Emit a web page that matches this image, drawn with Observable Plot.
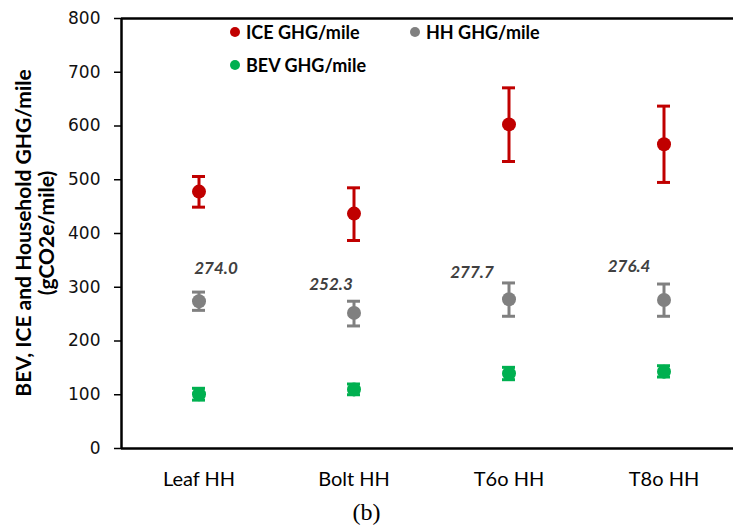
<!DOCTYPE html>
<html>
<head>
<meta charset="utf-8">
<script src="https://cdn.jsdelivr.net/npm/d3@7"></script>
<script src="https://cdn.jsdelivr.net/npm/@observablehq/plot@0.6"></script>
<style>
  body { margin: 0; background: #fff; }
  #wrap { position: relative; width: 733px; height: 530px; overflow: hidden; font-family: Lato, "Open Sans", sans-serif; }
  .leg { position: absolute; font-weight: bold; font-size: 18px; color: #000; white-space: nowrap; line-height: 22px; }
  .leg span { display: inline-block; width: 10px; height: 10px; border-radius: 50%; margin-right: 6px; vertical-align: 2px; }
  #cap { position: absolute; left: 0; width: 733px; top: 499px; text-align: center; font-family: "Liberation Serif", serif; font-size: 24px; }
  .ytitle { position: absolute; font-weight: bold; font-size: 21px; color: #000; white-space: nowrap; transform: translate(-50%, -50%) rotate(-90deg); }
</style>
</head>
<body>
<div id="wrap"></div>
<script>
const categories = ["Leaf HH", "Bolt HH", "T6o HH", "T8o HH"];
const iceValues = [478, 437, 603, 566];
const iceLow = [449, 387, 534, 495];
const iceHigh = [506, 485, 671, 637];
const hhValues = [274.0, 252.3, 277.7, 276.4];
const hhLow = [257, 228, 246, 246];
const hhHigh = [291, 274, 308, 306];
const bevValues = [101, 110, 139.5, 143];
const bevLow = [90, 100, 128, 133];
const bevHigh = [112, 120, 151, 154];
const hhLabels = ["274.0", "252.3", "277.7", "276.4"];
const yTicks = [0, 100, 200, 300, 400, 500, 600, 700, 800];
const seriesNames = ["ICE GHG/mile", "HH GHG/mile", "BEV GHG/mile"];
const yTitleLines = ["BEV, ICE and Household GHG/mile", "(gCO2e/mile)"];

const colors = {ice: "#C00000", hh: "#808080", bev: "#00B050"};
const labelOffsets = [[17, -33], [-23, -28], [-37, -27], [-35, -33]];

function rows(vals, lo, hi) {
  return categories.map((c, i) => ({cat: c, v: vals[i], lo: lo[i], hi: hi[i], label: hhLabels[i]}));
}
const ice = rows(iceValues, iceLow, iceHigh);
const hh = rows(hhValues, hhLow, hhHigh);
const bev = rows(bevValues, bevLow, bevHigh);

function errorMarks(data, color) {
  return [
    Plot.ruleX(data, {x: "cat", y1: "lo", y2: "hi", stroke: color, strokeWidth: 3}),
    Plot.tickY(data, {x: "cat", y: "lo", stroke: color, strokeWidth: 3, insetLeft: 71, insetRight: 71}),
    Plot.tickY(data, {x: "cat", y: "hi", stroke: color, strokeWidth: 3, insetLeft: 71, insetRight: 71}),
    Plot.dot(data, {x: "cat", y: "v", r: 7, fill: color})
  ];
}

const chart = Plot.plot({
  width: 733,
  height: 500,
  marginLeft: 121,
  marginRight: -8,
  marginTop: 18,
  marginBottom: 52,
  style: {fontFamily: "Lato, 'Open Sans', sans-serif", background: "#fff", color: "#000"},
  x: {type: "band", domain: categories, padding: 0},
  y: {domain: [0, 800]},
  marks: [
    Plot.axisY({ticks: yTicks, tickSize: 7, tickPadding: 14, label: null, fontSize: 17, fontFamily: "DejaVu Sans", stroke: "#000", strokeWidth: 1.5, fill: "#111"}),
    Plot.axisX({tickSize: 0, tickPadding: 23, label: null, fontSize: 20, fill: "#000"}),
    Plot.ruleY([0], {stroke: "#000", strokeWidth: 2.5}),
    Plot.ruleY([800], {stroke: "#000", strokeWidth: 2.5}),
    Plot.ruleX([categories[0]], {stroke: "#000", strokeWidth: 2.5, dx: -77.5}),
    ...errorMarks(ice, colors.ice),
    ...errorMarks(hh, colors.hh),
    ...errorMarks(bev, colors.bev),
    ...hh.map((d, i) => Plot.text([d], {x: "cat", y: "v", text: "label", dx: labelOffsets[i][0], dy: labelOffsets[i][1], fontSize: 17, fontStyle: "italic", fontWeight: "bold", fill: "#404040"}))
  ]
});

const wrap = document.getElementById("wrap");
wrap.appendChild(chart);

const titleX = [22, 45];
yTitleLines.forEach((t, i) => {
  const d = document.createElement("div");
  d.className = "ytitle";
  d.style.left = titleX[i] + "px";
  d.style.top = "233px";
  d.textContent = t;
  wrap.appendChild(d);
});

const legendItems = [
  {name: seriesNames[0], color: colors.ice, left: 230, top: 21},
  {name: seriesNames[1], color: colors.hh, left: 410, top: 21},
  {name: seriesNames[2], color: colors.bev, left: 230, top: 54}
];
for (const it of legendItems) {
  const d = document.createElement("div");
  d.className = "leg";
  d.style.left = it.left + "px";
  d.style.top = it.top + "px";
  d.innerHTML = `<span style="background:${it.color}"></span>`;
  d.appendChild(document.createTextNode(it.name));
  wrap.appendChild(d);
}
const cap = document.createElement("div");
cap.id = "cap";
cap.textContent = "(b)";
wrap.appendChild(cap);
</script>
</body>
</html>
